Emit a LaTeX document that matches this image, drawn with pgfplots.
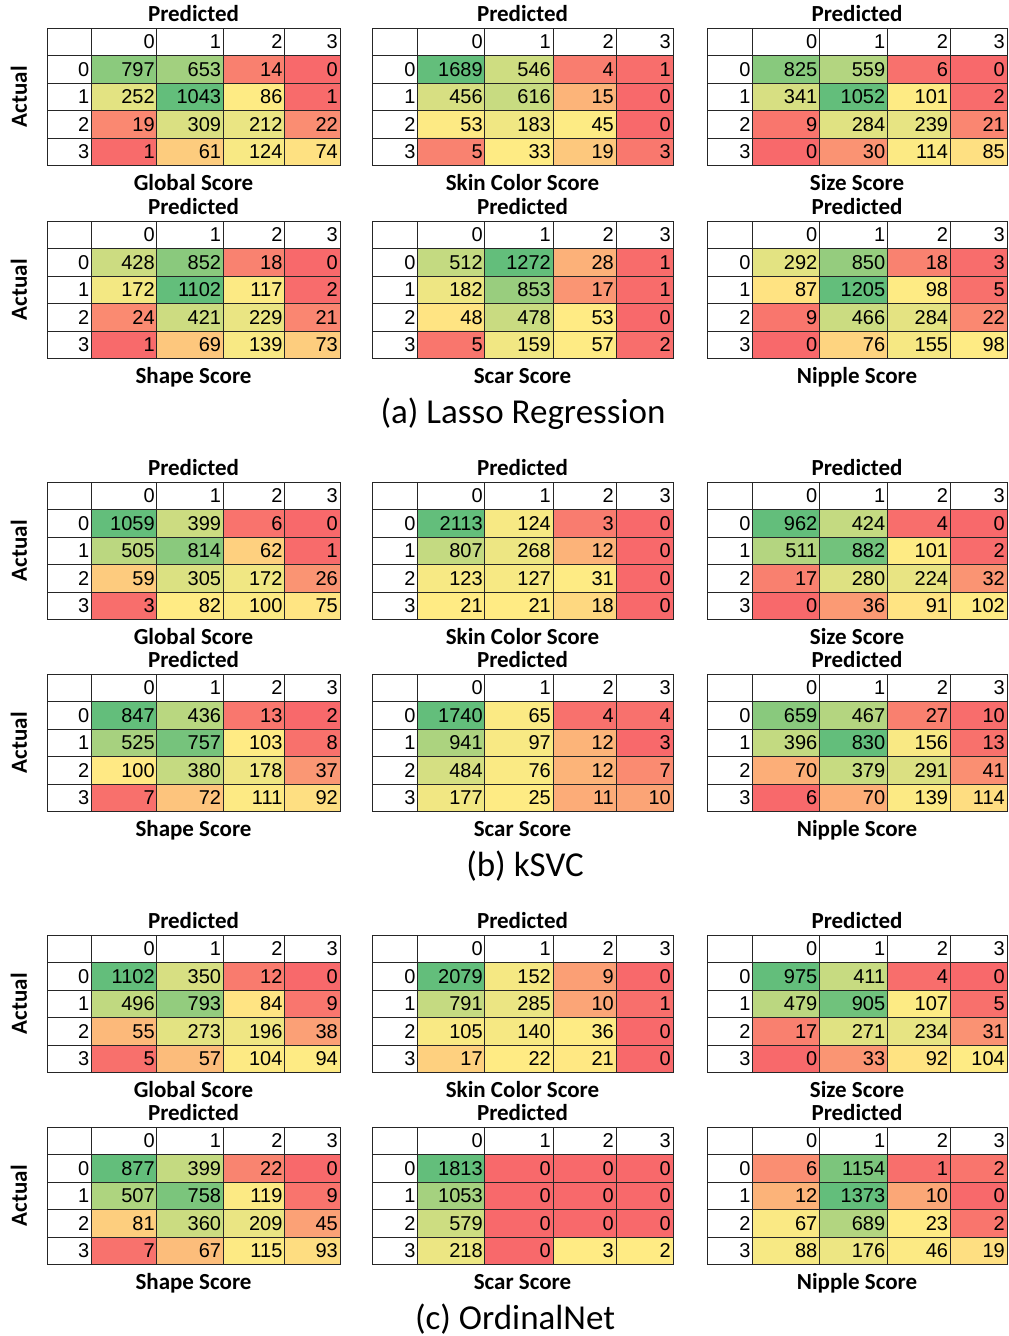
\documentclass[border=0pt]{standalone}
\usepackage{pgfplots}
\pgfplotsset{compat=1.18}
\usepackage{pgfplotstable}
\usepackage{fontspec}
\setmainfont{Carlito}
\newfontfamily\numfont{Liberation Sans}

% ---------- confusion matrices, row-major (actual 0..3 x predicted 0..3) ----------
% (a) Lasso Regression
\pgfplotstableread[row sep=\\]{v\\ 797\\ 653\\ 14\\ 0\\ 252\\ 1043\\ 86\\ 1\\ 19\\ 309\\ 212\\ 22\\ 1\\ 61\\ 124\\ 74\\}\aGlobal
\pgfplotstableread[row sep=\\]{v\\ 1689\\ 546\\ 4\\ 1\\ 456\\ 616\\ 15\\ 0\\ 53\\ 183\\ 45\\ 0\\ 5\\ 33\\ 19\\ 3\\}\aSkin
\pgfplotstableread[row sep=\\]{v\\ 825\\ 559\\ 6\\ 0\\ 341\\ 1052\\ 101\\ 2\\ 9\\ 284\\ 239\\ 21\\ 0\\ 30\\ 114\\ 85\\}\aSize
\pgfplotstableread[row sep=\\]{v\\ 428\\ 852\\ 18\\ 0\\ 172\\ 1102\\ 117\\ 2\\ 24\\ 421\\ 229\\ 21\\ 1\\ 69\\ 139\\ 73\\}\aShape
\pgfplotstableread[row sep=\\]{v\\ 512\\ 1272\\ 28\\ 1\\ 182\\ 853\\ 17\\ 1\\ 48\\ 478\\ 53\\ 0\\ 5\\ 159\\ 57\\ 2\\}\aScar
\pgfplotstableread[row sep=\\]{v\\ 292\\ 850\\ 18\\ 3\\ 87\\ 1205\\ 98\\ 5\\ 9\\ 466\\ 284\\ 22\\ 0\\ 76\\ 155\\ 98\\}\aNipple
% (b) kSVC
\pgfplotstableread[row sep=\\]{v\\ 1059\\ 399\\ 6\\ 0\\ 505\\ 814\\ 62\\ 1\\ 59\\ 305\\ 172\\ 26\\ 3\\ 82\\ 100\\ 75\\}\bGlobal
\pgfplotstableread[row sep=\\]{v\\ 2113\\ 124\\ 3\\ 0\\ 807\\ 268\\ 12\\ 0\\ 123\\ 127\\ 31\\ 0\\ 21\\ 21\\ 18\\ 0\\}\bSkin
\pgfplotstableread[row sep=\\]{v\\ 962\\ 424\\ 4\\ 0\\ 511\\ 882\\ 101\\ 2\\ 17\\ 280\\ 224\\ 32\\ 0\\ 36\\ 91\\ 102\\}\bSize
\pgfplotstableread[row sep=\\]{v\\ 847\\ 436\\ 13\\ 2\\ 525\\ 757\\ 103\\ 8\\ 100\\ 380\\ 178\\ 37\\ 7\\ 72\\ 111\\ 92\\}\bShape
\pgfplotstableread[row sep=\\]{v\\ 1740\\ 65\\ 4\\ 4\\ 941\\ 97\\ 12\\ 3\\ 484\\ 76\\ 12\\ 7\\ 177\\ 25\\ 11\\ 10\\}\bScar
\pgfplotstableread[row sep=\\]{v\\ 659\\ 467\\ 27\\ 10\\ 396\\ 830\\ 156\\ 13\\ 70\\ 379\\ 291\\ 41\\ 6\\ 70\\ 139\\ 114\\}\bNipple
% (c) OrdinalNet
\pgfplotstableread[row sep=\\]{v\\ 1102\\ 350\\ 12\\ 0\\ 496\\ 793\\ 84\\ 9\\ 55\\ 273\\ 196\\ 38\\ 5\\ 57\\ 104\\ 94\\}\cGlobal
\pgfplotstableread[row sep=\\]{v\\ 2079\\ 152\\ 9\\ 0\\ 791\\ 285\\ 10\\ 1\\ 105\\ 140\\ 36\\ 0\\ 17\\ 22\\ 21\\ 0\\}\cSkin
\pgfplotstableread[row sep=\\]{v\\ 975\\ 411\\ 4\\ 0\\ 479\\ 905\\ 107\\ 5\\ 17\\ 271\\ 234\\ 31\\ 0\\ 33\\ 92\\ 104\\}\cSize
\pgfplotstableread[row sep=\\]{v\\ 877\\ 399\\ 22\\ 0\\ 507\\ 758\\ 119\\ 9\\ 81\\ 360\\ 209\\ 45\\ 7\\ 67\\ 115\\ 93\\}\cShape
\pgfplotstableread[row sep=\\]{v\\ 1813\\ 0\\ 0\\ 0\\ 1053\\ 0\\ 0\\ 0\\ 579\\ 0\\ 0\\ 0\\ 218\\ 0\\ 3\\ 2\\}\cScar
\pgfplotstableread[row sep=\\]{v\\ 6\\ 1154\\ 1\\ 2\\ 12\\ 1373\\ 10\\ 0\\ 67\\ 689\\ 23\\ 2\\ 88\\ 176\\ 46\\ 19\\}\cNipple

\pgfplotsset{
  cmstyle/.style={
    scale only axis, height=137.5pt, anchor=north west,
    xmin=0, xmax=296, ymin=0, ymax=137.5, y dir=reverse,
    axis on top,
    xtick={45,111,178,240}, ytick={27.5,55,82.5,110},
    xticklabels={}, yticklabels={},
    major tick length=0pt,
    xmajorgrids, ymajorgrids,
    major grid style={draw=black!85, line width=0.8pt},
    axis line style={draw=black!85, line width=0.9pt},
    colormap={rgy}{rgb255(0cm)=(248,105,107); rgb255(1cm)=(255,235,132); rgb255(2cm)=(99,190,123)},
    point meta min=0, point meta max=1,
  },
  cellnum/.style={draw=none, mark=none, point meta=explicit symbolic,
    nodes near coords,
    nodes near coords style={anchor=east, inner sep=1pt, text=black,
      font=\numfont\fontsize{20}{20}\selectfont}},
}
\tikzset{
  lab/.style={font=\bfseries\fontsize{23}{23}\selectfont, inner sep=0pt},
  captext/.style={font=\fontsize{35}{35}\selectfont, inner sep=0pt, anchor=base},
}

% column index and row index of the n-th cell (row-major, 4 columns)
\def\cidx{mod(\coordindex,4)}
\def\ridx{floor((\coordindex+0.5)/4)}

% #1 left, #2 top, #3 width, #4 table, #5 min, #6 median, #7 max, #8 title
% cell colour: three-colour scale, min -> red, median -> yellow, max -> green
\newcommand{\cmatrix}[8]{%
  \begin{axis}[cmstyle, at={(#1pt,-#2pt)}, width=#3pt]
    \addplot[matrix plot*, mesh/cols=4, mesh/rows=4,
      point meta={(\thisrow{v}>#6) ? (0.5+0.5*(\thisrow{v}-#6)/(#7-#6)) : (0.5*(\thisrow{v}-#5)/max(#6-#5,0.001))}]
      table[x index=0, y index=0,
            x expr={78+66*\cidx+2*(\cidx>1.5)-10*(\cidx>2.5)},
            y expr={41.25+27.5*\ridx}] {#4};
    \addplot[cellnum]
      table[x index=0, y index=0,
            x expr={110+67*\cidx-5*(\cidx>1.5)-11*(\cidx>2.5)},
            y expr={41.25+27.5*\ridx}, meta=v] {#4};
    \addplot[cellnum] coordinates {(110,13.75)[0] (177,13.75)[1] (239,13.75)[2] (295,13.75)[3]
      (44,41.25)[0] (44,68.75)[1] (44,96.25)[2] (44,123.75)[3]};
  \end{axis}
  \node[lab, anchor=base] at (#1pt+#3pt/2, -#2pt+7pt) {Predicted};
  \node[lab, anchor=base] at (#1pt+#3pt/2, -#2pt-162.5pt) {#8};
}

\begin{document}
\begin{tikzpicture}
\path[use as bounding box] (0pt,0pt) rectangle (1009pt,-1336pt);

% (a) Lasso Regression
\cmatrix{47}{28}{293}{\aGlobal}{0}{80}{1043}{Global Score}
\cmatrix{372}{28}{301}{\aSkin}{0}{26}{1689}{Skin Color Score}
\cmatrix{707}{28}{300}{\aSize}{0}{93}{1052}{Size Score}
\cmatrix{47}{221}{293}{\aShape}{0}{95}{1102}{Shape Score}
\cmatrix{372}{221}{301}{\aScar}{0}{50.5}{1272}{Scar Score}
\cmatrix{707}{221}{300}{\aNipple}{0}{92.5}{1205}{Nipple Score}
\node[captext] at (523pt,-423pt) {(a) Lasso Regression};

% (b) kSVC
\cmatrix{47}{482}{293}{\bGlobal}{0}{78.5}{1059}{Global Score}
\cmatrix{372}{482}{301}{\bSkin}{0}{21}{2113}{Skin Color Score}
\cmatrix{707}{482}{300}{\bSize}{0}{96}{962}{Size Score}
\cmatrix{47}{674}{293}{\bShape}{2}{101.5}{847}{Shape Score}
\cmatrix{372}{674}{301}{\bScar}{3}{18.5}{1740}{Scar Score}
\cmatrix{707}{674}{300}{\bNipple}{6}{126.5}{830}{Nipple Score}
\node[captext] at (525pt,-876pt) {(b) kSVC};

% (c) OrdinalNet
\cmatrix{47}{935}{293}{\cGlobal}{0}{89}{1102}{Global Score}
\cmatrix{372}{935}{301}{\cSkin}{0}{21.5}{2079}{Skin Color Score}
\cmatrix{707}{935}{300}{\cSize}{0}{98}{975}{Size Score}
\cmatrix{47}{1127}{293}{\cShape}{0}{104}{877}{Shape Score}
\cmatrix{372}{1127}{301}{\cScar}{0}{0}{1813}{Scar Score}
\cmatrix{707}{1127}{300}{\cNipple}{0}{21}{1373}{Nipple Score}
\node[captext] at (515pt,-1329pt) {(c) OrdinalNet};

% row axis labels
\foreach \t in {28,221,482,674,935,1127}
  \node[lab, rotate=90, anchor=base] at (27pt,-\t pt-68.75pt) {Actual};
\end{tikzpicture}
\end{document}
